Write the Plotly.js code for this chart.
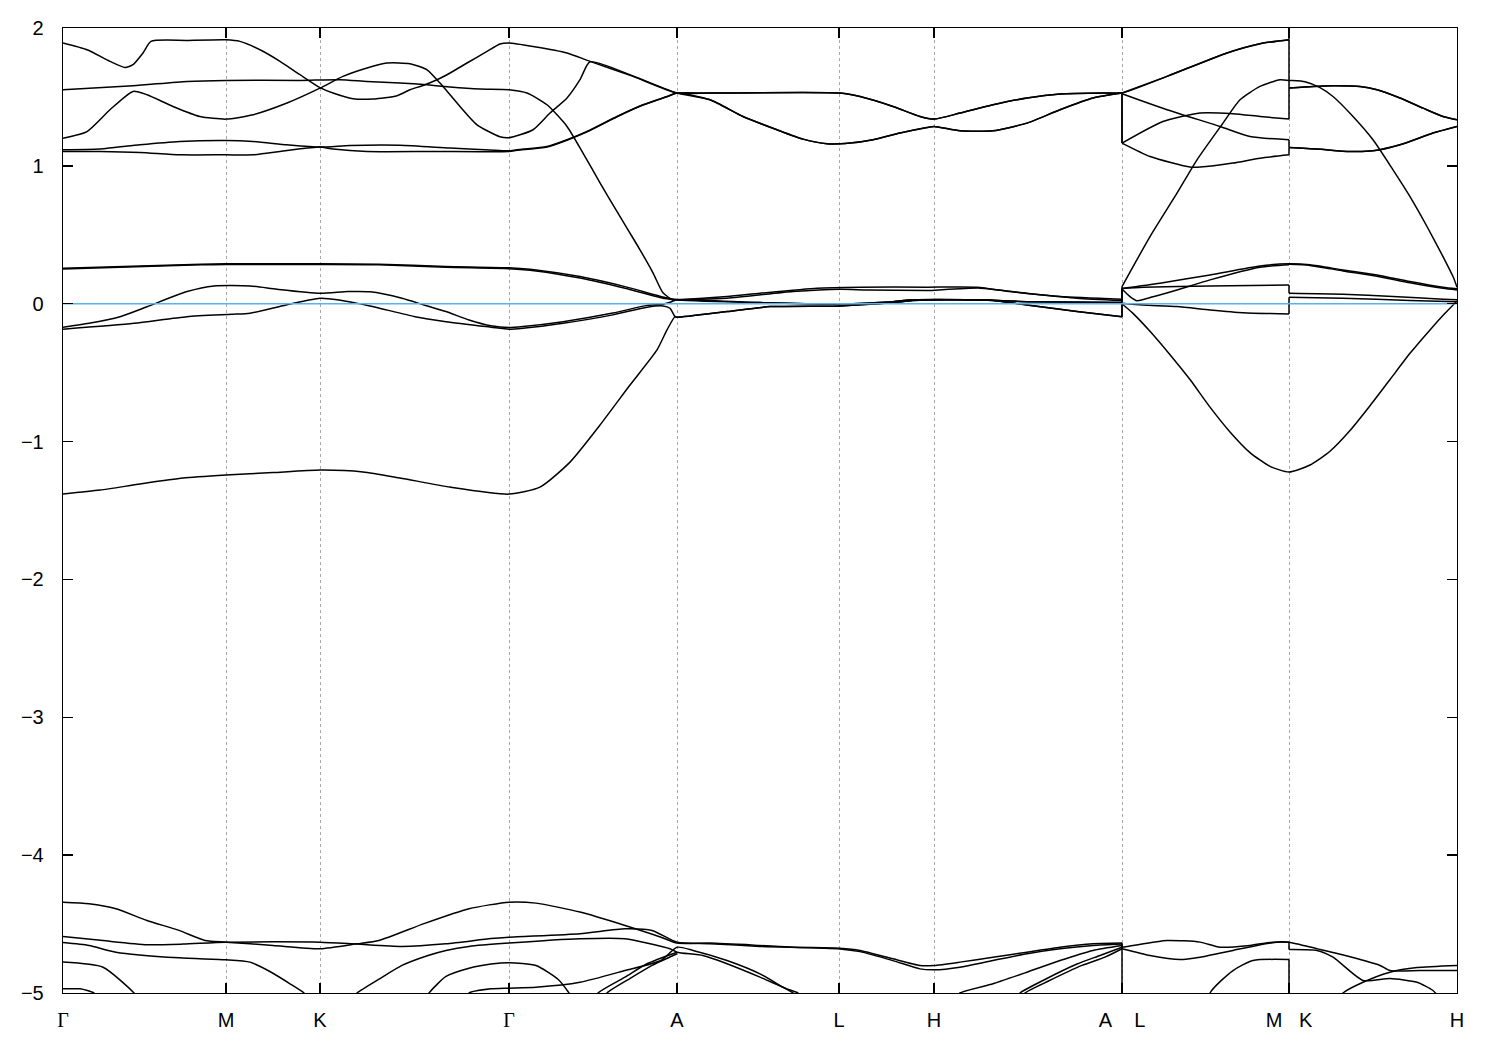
<!DOCTYPE html>
<html><head><meta charset="utf-8">
<script src="https://cdn.plot.ly/plotly-3.0.1.min.js"></script>
<style>html,body{margin:0;padding:0;background:#fff;} #chart{width:1500px;height:1050px;}</style>
</head><body><div id="chart"></div>
<script>
// k-path positions of the high-symmetry points and their labels
const kTicks = [0, 163, 257, 446, 614, 776, 871, 1059, 1226, 1394];
const kLabels = ['<span style="font-family:\'Liberation Serif\'">Γ</span>', 'M', 'K',
  '<span style="font-family:\'Liberation Serif\'">Γ</span>', 'A', 'L', 'H',
  'A\u00a0\u00a0\u00a0\u00a0L', 'M\u00a0\u00a0\u00a0K', 'H'];
const energyTicks = [-5, -4, -3, -2, -1, 0, 1, 2];
const fermiLevel = 0;

// bands: [k, E(eV)] pairs
const band01 = [[0,1.891],[24,1.842],[47,1.758],[62,1.714],[70,1.734],[80,1.819],[88,1.903],[124,1.910],[163,1.915],[177,1.903],[197,1.842],[217,1.758],[237,1.661],[257,1.567],[270,1.528],[290,1.487],[310,1.485],[334,1.509],[347,1.552],[360,1.583],[374,1.625],[384,1.661],[404,1.746],[424,1.830],[437,1.884],[446,1.891],[470,1.866],[504,1.819],[527,1.758],[570,1.649],[614,1.528],
  [647,1.528],[777,1.528],[797,1.503],[830,1.431],[857,1.358],[871,1.339],[897,1.383],[930,1.443],[964,1.492],[997,1.521],[1044,1.528],[1059,1.528],
  [1104,1.649],[1164,1.819],[1197,1.886],[1226,1.915],[1226,2.3]];
const band02 = [[0,1.201],[24,1.249],[47,1.407],[70,1.540],[84,1.516],[110,1.431],[137,1.358],[163,1.339],[190,1.371],[224,1.456],[257,1.564],[280,1.649],[304,1.710],[324,1.746],[347,1.741],[364,1.697],[377,1.601],[397,1.431],[414,1.298],[437,1.211],[446,1.204],[470,1.262],[487,1.383],[504,1.492],[517,1.625],[527,1.755],[570,1.652],[614,1.528],
  [647,1.479],[680,1.358],[714,1.262],[740,1.194],[764,1.160],[787,1.165],[810,1.189],[837,1.238],[864,1.278],[871,1.286],[897,1.254],[930,1.254],[964,1.310],[997,1.407],[1030,1.492],[1059,1.528],
  [1059,1.165],[1100,1.322],[1137,1.383],[1170,1.378],[1197,1.358],[1226,1.339],
  [1226,1.564],[1250,1.576],[1270,1.581],[1297,1.576],[1314,1.552],[1337,1.492],[1360,1.419],[1380,1.358],[1394,1.334]];
const band03 = [[0,1.117],[37,1.122],[77,1.153],[117,1.177],[163,1.184],[190,1.177],[224,1.153],[257,1.136],[287,1.148],[337,1.150],[387,1.129],[437,1.111],[446,1.109],[454,1.117],[484,1.140],[504,1.189],[524,1.249],[554,1.358],[580,1.443],[604,1.503],[614,1.528],
  [647,1.528],[777,1.528],[797,1.503],[830,1.431],[857,1.358],[871,1.339],[897,1.383],[930,1.443],[964,1.492],[997,1.521],[1044,1.528],[1059,1.528],
  [1059,1.523],[1104,1.407],[1157,1.286],[1187,1.213],[1226,1.189],
  [1226,1.133],[1254,1.122],[1287,1.104],[1310,1.109],[1337,1.153],[1370,1.238],[1394,1.286]];
const band04 = [[0,1.104],[37,1.104],[77,1.097],[117,1.080],[163,1.080],[190,1.080],[224,1.111],[257,1.136],[270,1.122],[304,1.104],[370,1.104],[446,1.104],[454,1.113],[484,1.136],[504,1.186],[524,1.246],[554,1.356],[580,1.441],[604,1.501],[614,1.528],
  [647,1.479],[680,1.358],[714,1.262],[740,1.194],[764,1.160],[787,1.165],[810,1.189],[837,1.238],[864,1.278],[871,1.286],[897,1.254],[930,1.254],[964,1.310],[997,1.407],[1030,1.492],[1059,1.528],
  [1059,1.165],[1087,1.068],[1127,0.991],[1137,0.991],[1170,1.020],[1197,1.056],[1226,1.080],
  [1226,1.133],[1254,1.122],[1287,1.104],[1310,1.109],[1337,1.153],[1370,1.238],[1394,1.286]];
const band05 = [[1059,1.528],[1104,1.649],[1164,1.819],[1197,1.886],[1226,1.915],
  [1226,1.564],[1250,1.576],[1270,1.581],[1297,1.576],[1314,1.552],[1337,1.492],[1360,1.419],[1380,1.358],[1394,1.334]];
const band06 = [[0,1.552],[70,1.581],[124,1.612],[163,1.620],[237,1.620],[277,1.625],[304,1.612],[337,1.601],[364,1.588],[387,1.572],[417,1.557],[446,1.552],[464,1.528],[484,1.443],[504,1.286],[520,1.093],[537,0.877],[547,0.754],[565,0.536],[577,0.391],[590,0.224],[600,0.079],[610,0.027],[614,0.028],
  [664,0.052],[697,0.076],[754,0.113],[797,0.120],[864,0.120],[914,0.120],[947,0.088],[997,0.052],[1059,0.033],
  [1059,0.124],[1087,0.487],[1114,0.802],[1134,1.044],[1160,1.310],[1177,1.479],[1197,1.576],[1217,1.625],[1226,1.620],
  [1242,1.610],[1257,1.567],[1270,1.503],[1290,1.358],[1310,1.189],[1330,0.971],[1347,0.777],[1364,0.560],[1380,0.342],[1390,0.197],[1394,0.120]];
const band07 = [[0,0.258],[138,0.287],[163,0.289],[257,0.289],[316,0.287],[383,0.270],[446,0.260],[473,0.245],[517,0.197],[562,0.124],[602,0.045],[614,0.030],
  [664,0.040],[730,0.088],[777,0.105],[804,0.100],[864,0.095],[871,0.097],[917,0.113],[964,0.076],[1014,0.040],[1059,0.023],
  [1059,0.111],[1097,0.149],[1147,0.209],[1197,0.274],[1226,0.289],
  [1247,0.282],[1280,0.245],[1314,0.209],[1347,0.161],[1380,0.120],[1394,0.108]];
const band08 = [[0,0.252],[138,0.282],[163,0.284],[257,0.284],[316,0.282],[383,0.264],[446,0.254],[473,0.238],[517,0.186],[562,0.112],[602,0.037],[614,0.027],
  [697,0.008],[777,-0.001],[830,0.015],[850,0.028],[914,0.028],[964,0.015],[1059,0.008],
  [1059,0.107],[1067,0.052],[1074,0.022],[1090,0.050],[1114,0.100],[1147,0.173],[1197,0.265],[1226,0.282],
  [1226,0.286],[1247,0.278],[1280,0.238],[1314,0.200],[1347,0.152],[1380,0.112],[1394,0.100]];
const band09 = [[0,-0.170],[26,-0.142],[57,-0.094],[84,-0.022],[124,0.088],[151,0.129],[187,0.129],[214,0.105],[257,0.076],[285,0.088],[307,0.086],[339,0.040],[361,-0.009],[383,-0.057],[406,-0.118],[428,-0.160],[446,-0.172],[460,-0.165],[500,-0.130],[550,-0.068],[584,-0.012],[600,-0.004],[607,0.010],[614,0.028],
  [697,0.008],[777,-0.001],[830,0.015],[850,0.028],[914,0.028],[964,0.015],[1059,0.008],
  [1059,0.111],[1080,0.120],[1147,0.129],[1226,0.136],
  [1226,0.076],[1280,0.069],[1330,0.052],[1380,0.033],[1394,0.028]];
const band10 = [[0,-0.185],[71,-0.142],[124,-0.094],[169,-0.077],[187,-0.069],[223,-0.009],[257,0.040],[276,0.027],[307,-0.016],[352,-0.094],[383,-0.130],[428,-0.170],[446,-0.185],[460,-0.178],[500,-0.142],[550,-0.081],[584,-0.025],[600,-0.016],[607,-0.033],[612,-0.094],[614,-0.098],
  [664,-0.057],[707,-0.021],[777,-0.016],[830,0.008],[850,0.023],[897,0.028],[930,0.023],[964,-0.009],[1014,-0.057],[1059,-0.094],
  [1059,0.004],[1080,-0.009],[1114,-0.021],[1147,-0.045],[1180,-0.065],[1226,-0.074],
  [1226,0.047],[1280,0.040],[1347,0.023],[1394,0.015]];
const band11 = [[0,-1.381],[37,-1.352],[77,-1.308],[120,-1.265],[163,-1.243],[210,-1.225],[257,-1.207],[300,-1.220],[337,-1.264],[387,-1.330],[446,-1.381],[477,-1.330],[507,-1.149],[537,-0.880],[567,-0.590],[594,-0.335],[604,-0.190],[612,-0.094],[614,-0.098],
  [664,-0.057],[707,-0.021],[777,-0.016],[830,0.008],[850,0.023],[897,0.028],[930,0.023],[964,-0.009],[1014,-0.057],[1059,-0.094],
  [1059,0.000],[1070,-0.070],[1087,-0.200],[1107,-0.370],[1127,-0.550],[1147,-0.750],[1167,-0.930],[1187,-1.080],[1207,-1.180],[1226,-1.221],
  [1247,-1.170],[1267,-1.070],[1287,-0.920],[1307,-0.740],[1327,-0.550],[1347,-0.360],[1367,-0.190],[1382,-0.070],[1394,0.020]];
const band12 = [[0,-4.341],[26,-4.352],[53,-4.389],[84,-4.474],[116,-4.546],[142,-4.619],[163,-4.631],[210,-4.655],[257,-4.679],[294,-4.643],[316,-4.619],[361,-4.497],[406,-4.389],[446,-4.341],[473,-4.348],[517,-4.413],[562,-4.510],[598,-4.595],[614,-4.638],
  [647,-4.638],[697,-4.655],[730,-4.668],[777,-4.675],[797,-4.691],[830,-4.752],[857,-4.800],[871,-4.800],[897,-4.776],[930,-4.740],[964,-4.704],[997,-4.668],[1030,-4.643],[1059,-4.638],
  [1059,-4.668],[1070,-4.655],[1104,-4.619],[1137,-4.631],[1157,-4.668],[1187,-4.655],[1210,-4.631],[1226,-4.631],
  [1254,-4.679],[1287,-4.737],[1317,-4.800],[1327,-4.837],[1357,-4.837],[1394,-4.837]];
const band13 = [[0,-4.590],[40,-4.620],[84,-4.650],[120,-4.645],[163,-4.631],[257,-4.631],[294,-4.645],[339,-4.662],[383,-4.643],[428,-4.605],[446,-4.595],[517,-4.570],[562,-4.534],[589,-4.546],[614,-4.631],
  [647,-4.642],[697,-4.662],[777,-4.680],[797,-4.700],[830,-4.765],[857,-4.825],[871,-4.832],[897,-4.813],[930,-4.764],[964,-4.715],[997,-4.679],[1030,-4.655],[1059,-4.645],
  [1059,-4.679],[1087,-4.728],[1117,-4.757],[1137,-4.740],[1170,-4.691],[1194,-4.655],[1214,-4.631],[1226,-4.631],
  [1226,-4.684],[1254,-4.691],[1270,-4.740],[1300,-4.909],[1327,-4.895],[1354,-4.922],[1370,-4.982],[1378,-5.05]];
const band14 = [[0,-4.634],[26,-4.655],[53,-4.704],[116,-4.745],[163,-4.759],[187,-4.776],[205,-4.837],[227,-4.933],[241,-5.0],[246,-5.05]];
const band15 = [[288,-5.05],[294,-5.0],[317,-4.895],[339,-4.800],[365,-4.728],[383,-4.691],[406,-4.662],[446,-4.638],[517,-4.607],[562,-4.607],[607,-4.679],[614,-4.704],
  [640,-4.728],[664,-4.788],[697,-4.885],[724,-4.970],[735,-5.0],[741,-5.05]];
const band16 = [[0,-4.776],[40,-4.813],[71,-5.0],[76,-5.05]];
const band17 = [[0,-4.970],[17,-4.970],[31,-5.0],[36,-5.05]];
const band18 = [[362,-5.05],[366,-5.0],[383,-4.880],[406,-4.820],[428,-4.790],[446,-4.780],[473,-4.800],[495,-4.900],[506,-5.0],[510,-5.05]];
const band19 = [[402,-5.05],[406,-5.0],[428,-4.970],[446,-4.965],[473,-4.958],[517,-4.922],[562,-4.837],[598,-4.764],[614,-4.668],
  [630,-4.691],[664,-4.764],[697,-4.861],[720,-4.958],[730,-5.0],[736,-5.05]];
const band20 = [[532,-5.05],[535,-5.0],[562,-4.885],[584,-4.788],[614,-4.704]];
const band21 = [[541,-5.05],[544,-5.0],[567,-4.895],[589,-4.800],[614,-4.715]];
const band22 = [[891,-5.05],[897,-5.0],[930,-4.933],[964,-4.849],[997,-4.764],[1030,-4.691],[1059,-4.655],[1059,-5.3],[1140,-5.3],[1147,-5.0],[1170,-4.837],[1190,-4.764],[1226,-4.757],[1226,-5.3]];
const band23 = [[952,-5.05],[957,-5.0],[980,-4.909],[1014,-4.790],[1037,-4.728],[1059,-4.668]];
const band24 = [[957,-5.05],[962,-5.0],[985,-4.915],[1019,-4.800],[1042,-4.740],[1059,-4.679]];
const band25 = [[1275,-5.05],[1280,-5.0],[1300,-4.922],[1327,-4.849],[1354,-4.815],[1394,-4.800]];

const bands = [band01, band02, band03, band04, band05, band06, band07, band08, band09, band10,
  band11, band12, band13, band14, band15, band16, band17, band18, band19, band20,
  band21, band22, band23, band24, band25];

// split each band at the path discontinuities (A|L, M|K): smooth pieces + straight jumps
const traces = [];
const lineStyle = {color: '#000000', width: 1.5};
bands.forEach(b => {
  let cur = [b[0]];
  const pieces = [], jumps = [];
  for (let i = 1; i < b.length; i++) {
    if (b[i][0] === b[i - 1][0]) {
      pieces.push(cur); jumps.push([b[i - 1], b[i]]); cur = [b[i]];
    } else cur.push(b[i]);
  }
  pieces.push(cur);
  pieces.forEach(p => {
    if (p.length < 2) return;
    traces.push({x: p.map(q => q[0]), y: p.map(q => q[1]), type: 'scatter', mode: 'lines',
      line: Object.assign({shape: 'spline', smoothing: 0.6}, lineStyle), hoverinfo: 'skip', showlegend: false});
  });
  jumps.forEach(j => {
    traces.push({x: j.map(q => q[0]), y: j.map(q => q[1]), type: 'scatter', mode: 'lines',
      line: lineStyle, hoverinfo: 'skip', showlegend: false});
  });
});
traces.push({
  x: [kTicks[0], kTicks[kTicks.length - 1]], y: [fermiLevel, fermiLevel],
  type: 'scatter', mode: 'lines',
  line: {color: '#56b4e9', width: 1.6},
  hoverinfo: 'skip', showlegend: false
});

const tickFont = {family: 'Liberation Sans, Arial, sans-serif', size: 20, color: '#000'};
const layout = {
  width: 1500, height: 1050,
  margin: {l: 63, r: 43, t: 28, b: 57, pad: 0},
  paper_bgcolor: '#ffffff', plot_bgcolor: '#ffffff',
  showlegend: false,
  xaxis: {
    range: [kTicks[0], kTicks[kTicks.length - 1]],
    tickmode: 'array', tickvals: kTicks, ticktext: kLabels,
    ticks: 'inside', ticklen: 10, tickwidth: 1.3, tickcolor: '#000',
    showline: true, linecolor: '#000', linewidth: 1.3, mirror: 'ticks',
    showgrid: true, gridcolor: '#a8a8a8', gridwidth: 1, griddash: '3px,3px',
    zeroline: false, tickfont: tickFont, ticklabelstandoff: 9
  },
  yaxis: {
    range: [-5, 2],
    tickmode: 'array', tickvals: energyTicks,
    ticks: 'inside', ticklen: 10, tickwidth: 1.3, tickcolor: '#000',
    showline: true, linecolor: '#000', linewidth: 1.3, mirror: 'ticks',
    showgrid: false, zeroline: false, tickfont: tickFont, ticklabelstandoff: 14
  }
};
Plotly.newPlot('chart', traces, layout, {staticPlot: true, displayModeBar: false});
</script>
</body></html>
